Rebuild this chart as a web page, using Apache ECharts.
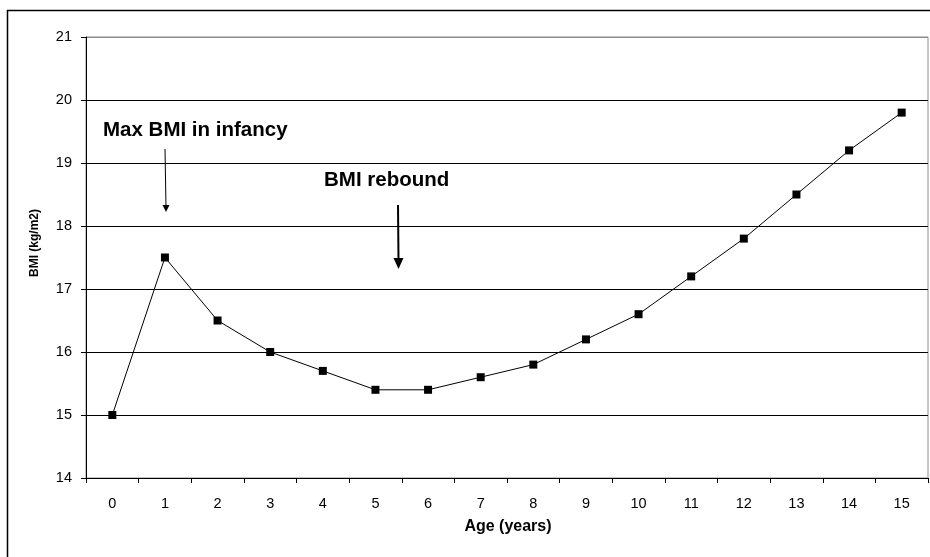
<!DOCTYPE html>
<html>
<head>
<meta charset="utf-8">
<script src="https://cdn.jsdelivr.net/npm/echarts@6/dist/echarts.min.js"></script>
<style>
  html, body { margin: 0; padding: 0; background: #fff; }
  #main { width: 930px; height: 557px; }
</style>
</head>
<body>
<div id="main"></div>
<script>
// data
var ages = ['0', '1', '2', '3', '4', '5', '6', '7', '8', '9', '10', '11', '12', '13', '14', '15'];
var bmi = [15, 17.5, 16.5, 16, 15.7, 15.4, 15.4, 15.6, 15.8, 16.2, 16.6, 17.2, 17.8, 18.5, 19.2, 19.8];
var yMin = 14, yMax = 21, yStep = 1;

var font = 'Liberation Sans, Arial, sans-serif';
var chart = echarts.init(document.getElementById('main'));

// gridlines: black, except the top one which is the grey plot frame
var splitColors = [];
for (var v = yMin; v <= yMax; v += yStep) splitColors.push(v === yMax ? '#8c8c8c' : '#000');

var option = {
  animation: false,
  backgroundColor: '#fff',
  grid: {
    left: 86, right: 2, top: 37, bottom: 79,
    show: true, borderColor: '#8c8c8c', borderWidth: 1, backgroundColor: 'transparent'
  },
  xAxis: {
    type: 'category',
    data: ages,
    boundaryGap: true,
    axisLine: { lineStyle: { color: '#000', width: 1 } },
    axisTick: { show: true, length: 5, inside: false, lineStyle: { color: '#000' } },
    axisLabel: { color: '#000', fontSize: 14.5, fontFamily: font, margin: 18 },
    splitLine: { show: false }
  },
  yAxis: {
    type: 'value',
    min: yMin, max: yMax, interval: yStep,
    axisLine: { show: true, lineStyle: { color: '#000', width: 1 } },
    axisTick: { show: true, length: 5, lineStyle: { color: '#000' } },
    axisLabel: { color: '#000', fontSize: 14.5, fontFamily: font, margin: 14 },
    splitLine: { show: true, lineStyle: { color: splitColors, width: 1 } }
  },
  series: [{
    type: 'line',
    data: bmi,
    symbol: 'rect',
    symbolSize: 8,
    itemStyle: { color: '#000' },
    lineStyle: { color: '#000', width: 1 }
  }],
  graphic: [
    // outer chart frame
    { type: 'rect', shape: { x: 7.5, y: 10.5, width: 940, height: 570 },
      style: { fill: 'none', stroke: '#000', lineWidth: 1.5 }, z: 100 },
    // axis titles
    { type: 'text', x: 35, y: 243, rotation: Math.PI / 2,
      style: { text: 'BMI (kg/m2)', font: 'bold 12px ' + font, fill: '#000', align: 'center', verticalAlign: 'middle' } },
    { type: 'text', x: 508, y: 527,
      style: { text: 'Age (years)', font: 'bold 16px ' + font, fill: '#000', align: 'center', verticalAlign: 'middle' } },
    // annotations
    { type: 'text', x: 103, y: 130,
      style: { text: 'Max BMI in infancy', font: 'bold 20.5px ' + font, fill: '#000', align: 'left', verticalAlign: 'middle' } },
    { type: 'text', x: 324, y: 180,
      style: { text: 'BMI rebound', font: 'bold 20.5px ' + font, fill: '#000', align: 'left', verticalAlign: 'middle' } },
    // arrows
    { type: 'line', shape: { x1: 165, y1: 149, x2: 166, y2: 208 }, style: { stroke: '#000', lineWidth: 1 } },
    { type: 'polygon', shape: { points: [[162.5, 205], [169.5, 205], [166, 212]] }, style: { fill: '#000' } },
    { type: 'line', shape: { x1: 398, y1: 205, x2: 398.5, y2: 260 }, style: { stroke: '#000', lineWidth: 2 } },
    { type: 'polygon', shape: { points: [[393.5, 258], [403.5, 258], [398.5, 269]] }, style: { fill: '#000' } }
  ]
};

chart.setOption(option);
</script>
</body>
</html>
